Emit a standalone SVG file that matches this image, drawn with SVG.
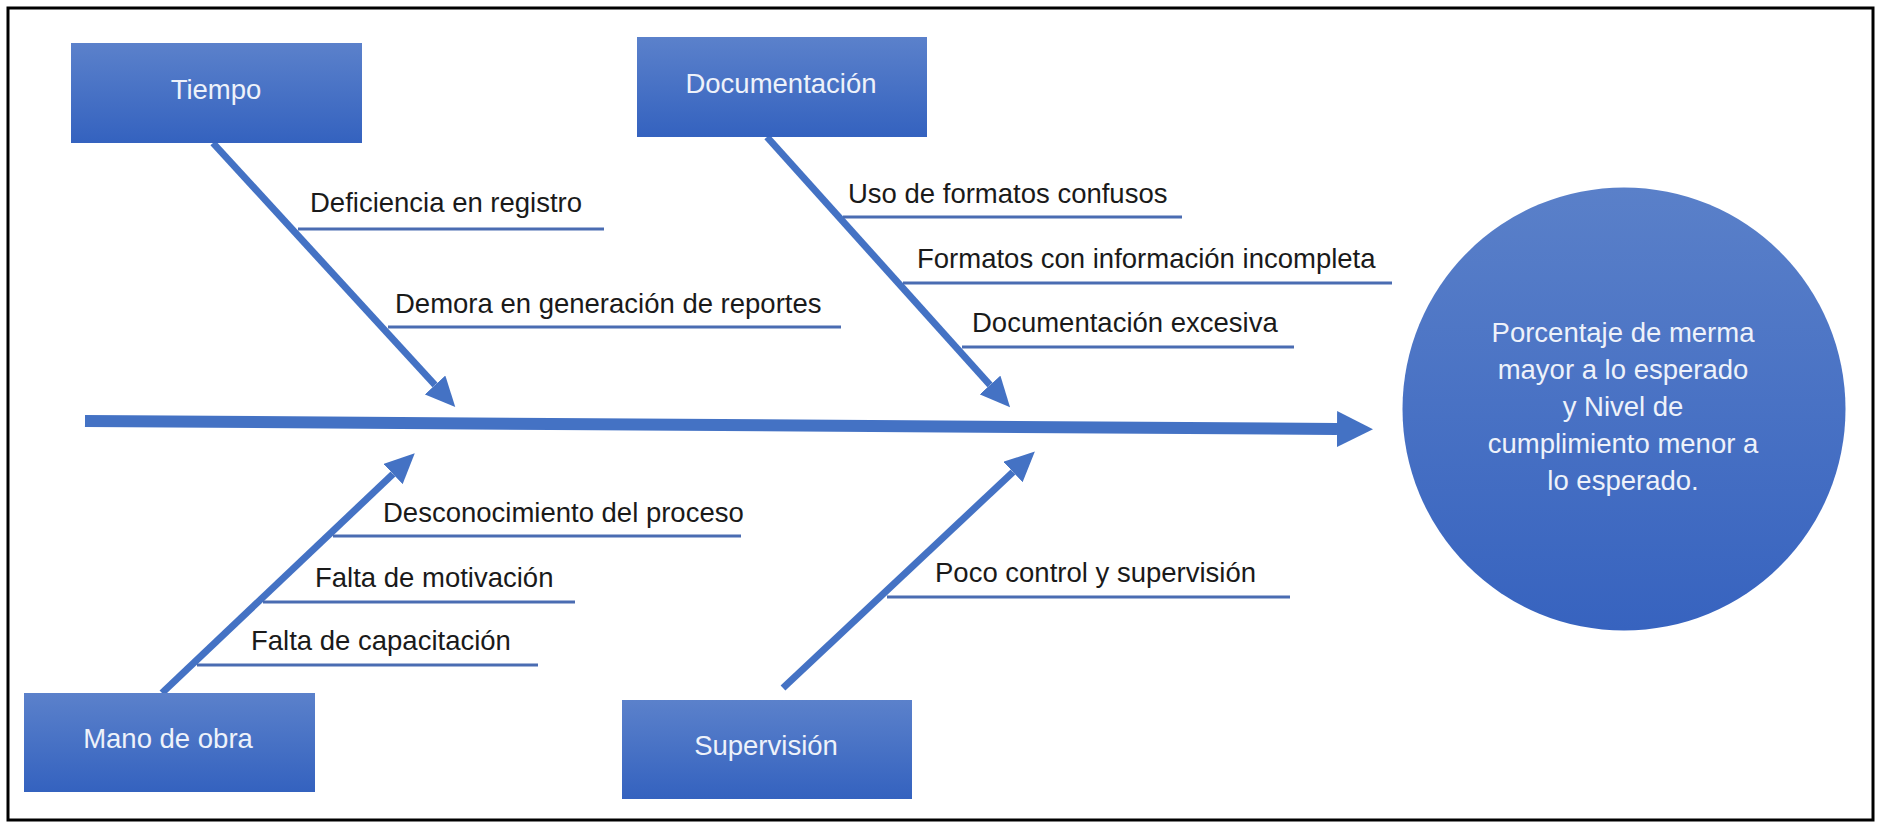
<svg xmlns="http://www.w3.org/2000/svg" width="1877" height="825" viewBox="0 0 1877 825">
  <defs>
    <linearGradient id="boxGrad" x1="0" y1="0" x2="0" y2="1">
      <stop offset="0" stop-color="#5b81cb"/>
      <stop offset="1" stop-color="#3462bf"/>
    </linearGradient>
    <linearGradient id="circGrad" x1="0" y1="0" x2="0" y2="1">
      <stop offset="0" stop-color="#5a80c9"/>
      <stop offset="1" stop-color="#3763bf"/>
    </linearGradient>
    <marker id="headSmall" markerUnits="userSpaceOnUse" markerWidth="30" markerHeight="28" refX="0" refY="14" orient="auto">
      <path d="M0,0 L30,14 L0,28 z" fill="#4472c4"/>
    </marker>
    <marker id="headBig" markerUnits="userSpaceOnUse" markerWidth="36" markerHeight="36" refX="0" refY="18" orient="auto">
      <path d="M0,0 L36,18 L0,36 z" fill="#4472c4"/>
    </marker>
  </defs>
  <style>
    .box { fill: url(#boxGrad); }
    .boxText { font-family: "Liberation Sans", Arial, sans-serif; font-size: 27.5px; fill: #eef2fa; text-anchor: middle; }
    .lbl { font-family: "Liberation Sans", Arial, sans-serif; font-size: 27.5px; fill: #1a1a1a; }
    .sub { stroke: #4a6cb2; stroke-width: 3; fill: none; }
    .bone { stroke: #4472c4; stroke-width: 7; fill: none; marker-end: url(#headSmall); }
    .spine { stroke: #4472c4; stroke-width: 12; fill: none; marker-end: url(#headBig); }
    .circText { font-family: "Liberation Sans", Arial, sans-serif; font-size: 27.5px; fill: #eef2fa; text-anchor: middle; }
  </style>

  <rect x="0" y="0" width="1877" height="825" fill="#ffffff"/>
  <rect x="8" y="8" width="1865" height="812" fill="none" stroke="#000000" stroke-width="3"/>

  <g id="connectors">
    <line class="spine" x1="85" y1="421" x2="1337" y2="429"/>
    <line class="bone" x1="213" y1="143" x2="435" y2="385"/>
    <line class="bone" x1="767" y1="137" x2="990" y2="385"/>
    <line class="bone" x1="162" y1="693" x2="393" y2="474"/>
    <line class="bone" x1="783" y1="688" x2="1013" y2="472"/>
    <line class="sub" x1="298" y1="229" x2="604" y2="229"/>
    <line class="sub" x1="388" y1="327" x2="841" y2="327"/>
    <line class="sub" x1="843" y1="217" x2="1182" y2="217"/>
    <line class="sub" x1="903" y1="283" x2="1392" y2="283"/>
    <line class="sub" x1="962" y1="347" x2="1294" y2="347"/>
    <line class="sub" x1="333" y1="536" x2="741" y2="536"/>
    <line class="sub" x1="263" y1="602" x2="575" y2="602"/>
    <line class="sub" x1="197" y1="665" x2="538" y2="665"/>
    <line class="sub" x1="887" y1="597" x2="1290" y2="597"/>
  </g>

  <g id="labels">
    <text class="lbl" x="310" y="212">Deficiencia en registro</text>
    <text class="lbl" x="395" y="313">Demora en generación de reportes</text>
    <text class="lbl" x="848" y="203">Uso de formatos confusos</text>
    <text class="lbl" x="917" y="268">Formatos con información incompleta</text>
    <text class="lbl" x="972" y="332">Documentación excesiva</text>
    <text class="lbl" x="383" y="522">Desconocimiento del proceso</text>
    <text class="lbl" x="315" y="587">Falta de motivación</text>
    <text class="lbl" x="251" y="650">Falta de capacitación</text>
    <text class="lbl" x="935" y="582">Poco control y supervisión</text>
  </g>

  <g id="tiempo">
    <rect class="box" x="71" y="43" width="291" height="100"/>
    <text class="boxText" x="216" y="99">Tiempo</text>
  </g>
  <g id="documentacion">
    <rect class="box" x="637" y="37" width="290" height="100"/>
    <text class="boxText" x="781" y="93">Documentación</text>
  </g>
  <g id="mano-de-obra">
    <rect class="box" x="24" y="693" width="291" height="99"/>
    <text class="boxText" x="168" y="748">Mano de obra</text>
  </g>
  <g id="supervision">
    <rect class="box" x="622" y="700" width="290" height="99"/>
    <text class="boxText" x="766" y="755">Supervisión</text>
  </g>
  <g id="efecto">
    <circle cx="1624" cy="409" r="221.5" fill="url(#circGrad)"/>
    <text class="circText" x="1623" y="342">Porcentaje de merma</text>
    <text class="circText" x="1623" y="379">mayor a lo esperado</text>
    <text class="circText" x="1623" y="416">y Nivel de</text>
    <text class="circText" x="1623" y="453">cumplimiento menor a</text>
    <text class="circText" x="1623" y="490">lo esperado.</text>
  </g>
</svg>
